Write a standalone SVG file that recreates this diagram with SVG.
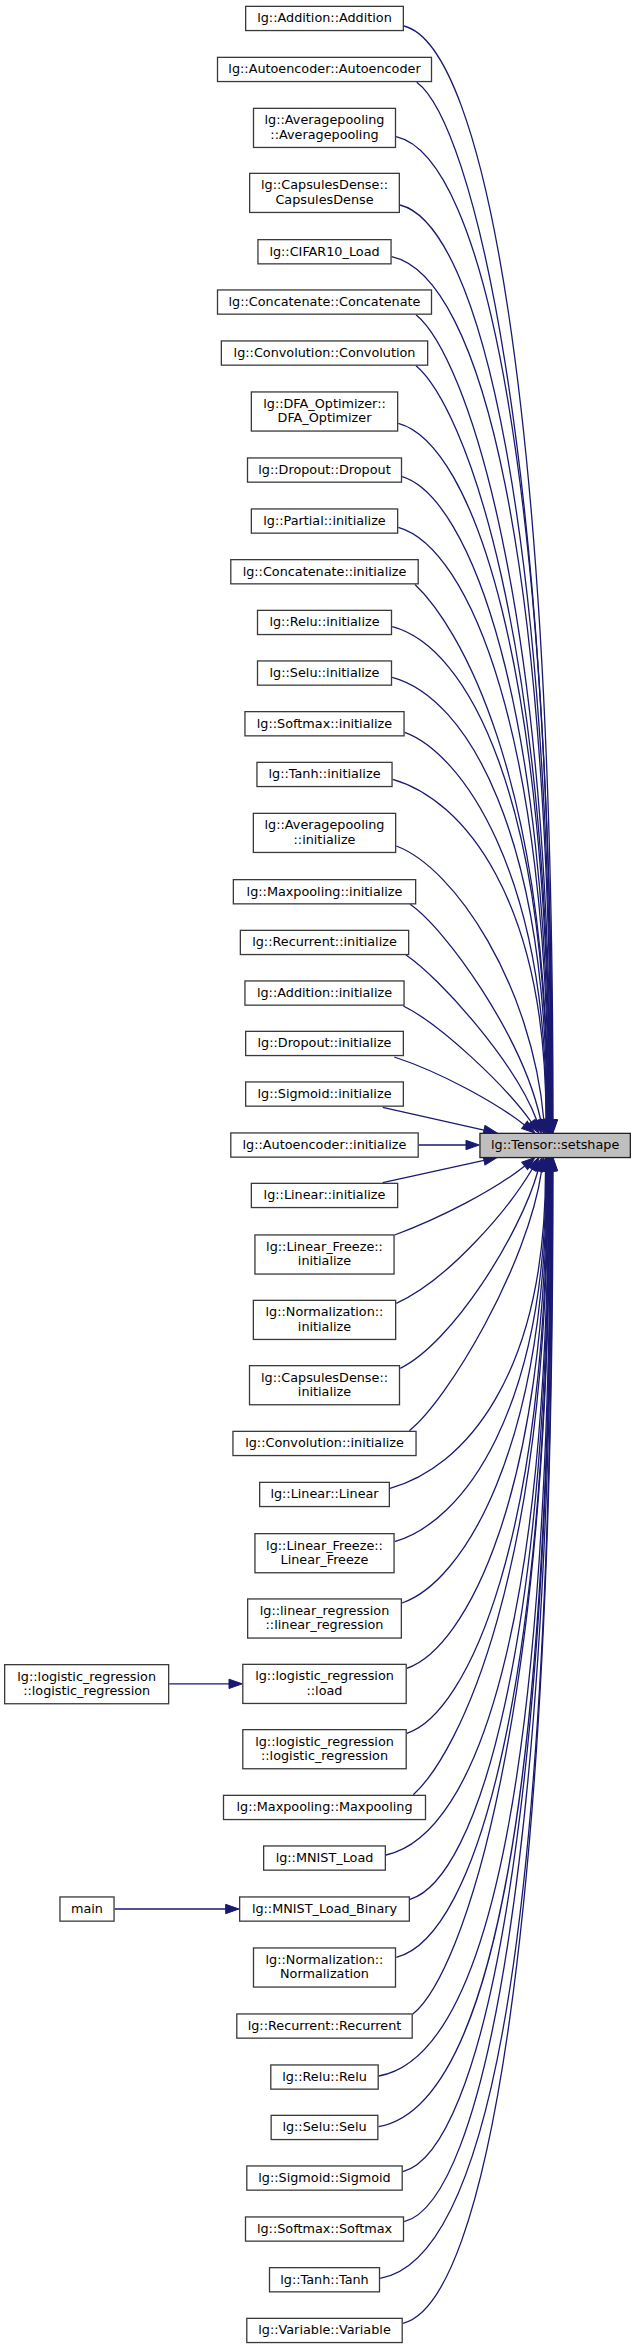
<svg xmlns="http://www.w3.org/2000/svg" width="636" height="2349" viewBox="0 0 636 2349">
<defs>
<marker id="ah" markerUnits="userSpaceOnUse" markerWidth="15" markerHeight="11" refX="0" refY="4.67" orient="auto" overflow="visible">
<path d="M0,0 L13.3,4.67 L0,9.33 Z" fill="#191970" stroke="#191970" stroke-width="1"/>
</marker>
<style>
.n rect{fill:#ffffff;stroke:#3a3a3a;stroke-width:1.3}
.hl rect{fill:#bfbfbf;stroke:#222222}
text{font-family:"DejaVu Sans","Liberation Sans",sans-serif;font-size:12.8px;text-anchor:middle;fill:#000000}
.e path{fill:none;stroke:#191970;stroke-width:1.3;marker-end:url(#ah)}
</style>
</defs>
<rect width="636" height="2349" fill="#ffffff"/>
<g id="edges" class="e">
<path d="M404,26 C484.3,46 553,408.8 553,1119.7"/>
<path d="M416.7,82.2 C471.5,122.2 552.5,445.3 552.5,1119.7"/>
<path d="M396.1,136.7 C484.3,156.7 552,480.8 552,1119.7"/>
<path d="M400,205 C479.8,225 551.5,525.1 551.5,1119.7"/>
<path d="M391.7,256.7 C482.2,276.7 551,558.8 551,1119.7"/>
<path d="M416,314.8 C464.9,354.8 550.5,596.5 550.5,1119.7"/>
<path d="M416,365.8 C463.7,405.8 550,629.7 550,1119.7"/>
<path d="M398.3,423.3 C472.8,443.3 549.5,667 549.5,1119.7"/>
<path d="M402.1,476.7 C469.1,496.7 549,701.8 549,1119.7"/>
<path d="M398.3,527.3 C469.1,547.3 548.5,734.6 548.5,1119.7"/>
<path d="M415,584.5 C457.1,624.5 548,771.8 548,1119.7"/>
<path d="M392.2,626.7 C468.6,646.7 547.5,799.3 547.5,1119.7"/>
<path d="M392.2,677.3 C466.7,697.3 547,832.1 547,1119.7"/>
<path d="M404.7,732.3 C459.6,752.3 546.5,867.9 546.5,1119.7"/>
<path d="M392.7,779.3 C462.9,799.3 546,898.4 546,1119.7"/>
<path d="M396.3,846 C455,868 532,985 543.8,1119.8"/>
<path d="M410,904.3 C445,928 522,1035 540.7,1120"/>
<path d="M406,955 C440,978 515,1062 536.8,1120.5"/>
<path d="M403.3,1006 C440,1024 505,1085 531.3,1122.1"/>
<path d="M394.3,1057 C440,1072 495,1102 524.5,1124.9"/>
<path d="M382.7,1107.3 L484,1130.1"/>
<path d="M418.7,1145 L466,1145"/>
<path d="M382.7,1182.7 L484,1160.4"/>
<path d="M394.7,1235 C440,1218 495,1190 524.7,1165.9"/>
<path d="M396.3,1303.3 C448,1280 508,1210 532.2,1169"/>
<path d="M400.3,1368.3 C452,1343 520,1235 538,1170.7"/>
<path d="M409.3,1430.7 C448,1400 528,1265 541.6,1170.7"/>
<path d="M390,1488.3 C463.4,1468.3 545.5,1377.2 545.5,1170.8"/>
<path d="M394.7,1541.7 C463,1521.7 546,1411.9 546,1170.8"/>
<path d="M402,1603 C461.5,1583 546.5,1451.7 546.5,1170.8"/>
<path d="M406.85,1668.3 C465.7,1648.3 547,1494.2 547,1170.8"/>
<path d="M406.85,1733.3 C468.1,1713.3 547.5,1536.4 547.5,1170.8"/>
<path d="M413.3,1794.7 C457.7,1754.7 548,1576.3 548,1170.8"/>
<path d="M386,1855 C478.6,1835 548.5,1615.5 548.5,1170.8"/>
<path d="M410,1899.3 C477.2,1879.3 549,1644.3 549,1170.8"/>
<path d="M396.3,1957.3 C477.1,1937.3 549.5,1682 549.5,1170.8"/>
<path d="M412.85,2014 C462.8,1974 550,1718.9 550,1170.8"/>
<path d="M378.85,2076 C490,2056 550.5,1759.2 550.5,1170.8"/>
<path d="M378.5,2126.7 C492.1,2106.7 551,1792.1 551,1170.8"/>
<path d="M402.85,2171.7 C481.6,2151.7 551.5,1821.4 551.5,1170.8"/>
<path d="M404.15,2221.7 C483,2201.7 552,1853.9 552,1170.8"/>
<path d="M380.15,2278.3 C496.8,2258.3 552.5,1890.7 552.5,1170.8"/>
<path d="M402.85,2323.3 C487,2303.3 553,1919.9 553,1170.8"/>
<path d="M169.3,1683.85 L229,1683.85"/>
<path d="M114.7,1909 L225.7,1909"/>
</g>
<g id="n_setshape" class="n hl"><rect x="479.95" y="1133.35" width="150.4" height="24.2"/><text x="555.15" y="1149.4">lg::Tensor::setshape</text></g>
<g id="n1" class="n"><rect x="245.65" y="6.35" width="157.7" height="24.2"/><text x="324.5" y="22.4">lg::Addition::Addition</text></g>
<g id="n2" class="n"><rect x="217.5" y="57.35" width="214" height="24.2"/><text x="324.5" y="73.4">lg::Autoencoder::Autoencoder</text></g>
<g id="n3" class="n"><rect x="253.5" y="108.35" width="142" height="39.1"/><text x="324.5" y="124.2">lg::Averagepooling</text><text x="324.5" y="138.7">::Averagepooling</text></g>
<g id="n4" class="n"><rect x="249.65" y="173.35" width="149.7" height="39.1"/><text x="324.5" y="189.2">lg::CapsulesDense::</text><text x="324.5" y="203.7">CapsulesDense</text></g>
<g id="n5" class="n"><rect x="257.95" y="239.65" width="133.1" height="24.2"/><text x="324.5" y="255.7">lg::CIFAR10_Load</text></g>
<g id="n6" class="n"><rect x="217.5" y="289.95" width="214" height="24.2"/><text x="324.5" y="306">lg::Concatenate::Concatenate</text></g>
<g id="n7" class="n"><rect x="221.35" y="340.95" width="206.3" height="24.2"/><text x="324.5" y="357">lg::Convolution::Convolution</text></g>
<g id="n8" class="n"><rect x="251.35" y="391.95" width="146.3" height="39.1"/><text x="324.5" y="407.8">lg::DFA_Optimizer::</text><text x="324.5" y="422.3">DFA_Optimizer</text></g>
<g id="n9" class="n"><rect x="247.5" y="457.95" width="154" height="24.2"/><text x="324.5" y="474">lg::Dropout::Dropout</text></g>
<g id="n10" class="n"><rect x="251.35" y="508.95" width="146.3" height="24.2"/><text x="324.5" y="525">lg::Partial::initialize</text></g>
<g id="n11" class="n"><rect x="230.8" y="559.65" width="187.4" height="24.2"/><text x="324.5" y="575.7">lg::Concatenate::initialize</text></g>
<g id="n12" class="n"><rect x="257.5" y="610.35" width="134" height="24.2"/><text x="324.5" y="626.4">lg::Relu::initialize</text></g>
<g id="n13" class="n"><rect x="257.5" y="660.95" width="134" height="24.2"/><text x="324.5" y="677">lg::Selu::initialize</text></g>
<g id="n14" class="n"><rect x="244.95" y="711.65" width="159.1" height="24.2"/><text x="324.5" y="727.7">lg::Softmax::initialize</text></g>
<g id="n15" class="n"><rect x="256.95" y="762.35" width="135.1" height="24.2"/><text x="324.5" y="778.4">lg::Tanh::initialize</text></g>
<g id="n16" class="n"><rect x="253.35" y="813.35" width="142.3" height="39.1"/><text x="324.5" y="829.2">lg::Averagepooling</text><text x="324.5" y="843.7">::initialize</text></g>
<g id="n17" class="n"><rect x="233.35" y="879.65" width="182.3" height="24.2"/><text x="324.5" y="895.7">lg::Maxpooling::initialize</text></g>
<g id="n18" class="n"><rect x="240.35" y="930.35" width="168.3" height="24.2"/><text x="324.5" y="946.4">lg::Recurrent::initialize</text></g>
<g id="n19" class="n"><rect x="244.95" y="980.95" width="159.1" height="24.2"/><text x="324.5" y="997">lg::Addition::initialize</text></g>
<g id="n20" class="n"><rect x="245.65" y="1031.35" width="157.7" height="24.2"/><text x="324.5" y="1047.4">lg::Dropout::initialize</text></g>
<g id="n21" class="n"><rect x="245.65" y="1081.95" width="157.7" height="24.2"/><text x="324.5" y="1098">lg::Sigmoid::initialize</text></g>
<g id="n22" class="n"><rect x="230.8" y="1132.95" width="187.4" height="24.2"/><text x="324.5" y="1149">lg::Autoencoder::initialize</text></g>
<g id="n23" class="n"><rect x="251.35" y="1183.35" width="146.3" height="24.2"/><text x="324.5" y="1199.4">lg::Linear::initialize</text></g>
<g id="n24" class="n"><rect x="254.95" y="1234.95" width="139.1" height="39.1"/><text x="324.5" y="1250.8">lg::Linear_Freeze::</text><text x="324.5" y="1265.3">initialize</text></g>
<g id="n25" class="n"><rect x="253.35" y="1300.35" width="142.3" height="39.1"/><text x="324.5" y="1316.2">lg::Normalization::</text><text x="324.5" y="1330.7">initialize</text></g>
<g id="n26" class="n"><rect x="249.5" y="1365.65" width="150" height="39.1"/><text x="324.5" y="1381.5">lg::CapsulesDense::</text><text x="324.5" y="1396">initialize</text></g>
<g id="n27" class="n"><rect x="232.95" y="1431.35" width="183.1" height="24.2"/><text x="324.5" y="1447.4">lg::Convolution::initialize</text></g>
<g id="n28" class="n"><rect x="259.65" y="1482.35" width="129.7" height="24.2"/><text x="324.5" y="1498.4">lg::Linear::Linear</text></g>
<g id="n29" class="n"><rect x="254.95" y="1533.65" width="139.1" height="39.1"/><text x="324.5" y="1549.5">lg::Linear_Freeze::</text><text x="324.5" y="1564">Linear_Freeze</text></g>
<g id="n30" class="n"><rect x="247.65" y="1598.95" width="153.7" height="39.1"/><text x="324.5" y="1614.8">lg::linear_regression</text><text x="324.5" y="1629.3">::linear_regression</text></g>
<g id="n31" class="n"><rect x="242.8" y="1664.35" width="163.4" height="39.1"/><text x="324.5" y="1680.2">lg::logistic_regression</text><text x="324.5" y="1694.7">::load</text></g>
<g id="n32" class="n"><rect x="242.8" y="1729.65" width="163.4" height="39.1"/><text x="324.5" y="1745.5">lg::logistic_regression</text><text x="324.5" y="1760">::logistic_regression</text></g>
<g id="n33" class="n"><rect x="223.5" y="1795.35" width="202" height="24.2"/><text x="324.5" y="1811.4">lg::Maxpooling::Maxpooling</text></g>
<g id="n34" class="n"><rect x="263.65" y="1845.95" width="121.7" height="24.2"/><text x="324.5" y="1862">lg::MNIST_Load</text></g>
<g id="n35" class="n"><rect x="239.65" y="1896.95" width="169.7" height="24.2"/><text x="324.5" y="1913">lg::MNIST_Load_Binary</text></g>
<g id="n36" class="n"><rect x="253.5" y="1947.95" width="142" height="39.1"/><text x="324.5" y="1963.8">lg::Normalization::</text><text x="324.5" y="1978.3">Normalization</text></g>
<g id="n37" class="n"><rect x="236.8" y="2013.95" width="175.4" height="24.2"/><text x="324.5" y="2030">lg::Recurrent::Recurrent</text></g>
<g id="n38" class="n"><rect x="270.8" y="2064.95" width="107.4" height="24.2"/><text x="324.5" y="2081">lg::Relu::Relu</text></g>
<g id="n39" class="n"><rect x="271.15" y="2115.35" width="106.7" height="24.2"/><text x="324.5" y="2131.4">lg::Selu::Selu</text></g>
<g id="n40" class="n"><rect x="246.8" y="2165.95" width="155.4" height="24.2"/><text x="324.5" y="2182">lg::Sigmoid::Sigmoid</text></g>
<g id="n41" class="n"><rect x="245.5" y="2216.95" width="158" height="24.2"/><text x="324.5" y="2233">lg::Softmax::Softmax</text></g>
<g id="n42" class="n"><rect x="269.5" y="2267.65" width="110" height="24.2"/><text x="324.5" y="2283.7">lg::Tanh::Tanh</text></g>
<g id="n43" class="n"><rect x="246.8" y="2318.35" width="155.4" height="24.2"/><text x="324.5" y="2334.4">lg::Variable::Variable</text></g>
<g id="n_logreg_left" class="n"><rect x="4.65" y="1664.65" width="164" height="39.1"/><text x="86.65" y="1680.5">lg::logistic_regression</text><text x="86.65" y="1695">::logistic_regression</text></g>
<g id="n_main" class="n"><rect x="59.95" y="1896.95" width="54.1" height="24.2"/><text x="87" y="1913">main</text></g>
</svg>
